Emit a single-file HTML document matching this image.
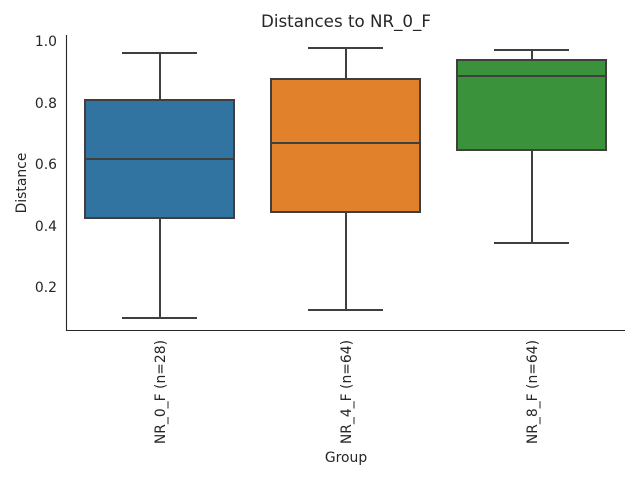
<!DOCTYPE html>
<html><head><style>body{margin:0;background:#fff}</style></head><body>
<svg width="640" height="480" xmlns="http://www.w3.org/2000/svg" font-family="DejaVu Sans, Liberation Sans, sans-serif" fill="#262626">
<text x="346" y="27" font-size="16.7" text-anchor="middle">Distances to NR_0_F</text>
<g stroke="#262626" stroke-width="1.1"><line x1="66.5" y1="35" x2="66.5" y2="331"/><line x1="66" y1="330.5" x2="625" y2="330.5"/></g>
<g font-size="13.9" text-anchor="end"><text x="57" y="46">1.0</text><text x="57" y="108">0.8</text><text x="57" y="169">0.6</text><text x="57" y="231">0.4</text><text x="57" y="292">0.2</text></g>
<text transform="translate(26,183) rotate(-90)" font-size="13.9" text-anchor="middle">Distance</text>
<text x="346" y="462" font-size="13.9" text-anchor="middle">Group</text>
<g font-size="13.9" text-anchor="end">
<text transform="translate(165,340) rotate(-90)">NR_0_F (n=28)</text>
<text transform="translate(351,340) rotate(-90)">NR_4_F (n=64)</text>
<text transform="translate(537,340) rotate(-90)">NR_8_F (n=64)</text></g>
<g stroke="#3f3f3f" stroke-width="2">
<line x1="160" y1="53" x2="160" y2="318"/><line x1="122" y1="53" x2="197" y2="53"/><line x1="122" y1="318" x2="197" y2="318"/>
<rect x="85" y="100" width="149" height="118" fill="#3274a1"/><line x1="85" y1="159" x2="234" y2="159"/>
<line x1="346" y1="48" x2="346" y2="310"/><line x1="308" y1="48" x2="383" y2="48"/><line x1="308" y1="310" x2="383" y2="310"/>
<rect x="271" y="79" width="149" height="133" fill="#e1812c"/><line x1="271" y1="143" x2="420" y2="143"/>
<line x1="532" y1="50" x2="532" y2="243"/><line x1="494" y1="50" x2="569" y2="50"/><line x1="494" y1="243" x2="569" y2="243"/>
<rect x="457" y="60" width="149" height="90" fill="#3a923a"/><line x1="457" y1="76" x2="606" y2="76"/>
</g>
</svg>
</body></html>
